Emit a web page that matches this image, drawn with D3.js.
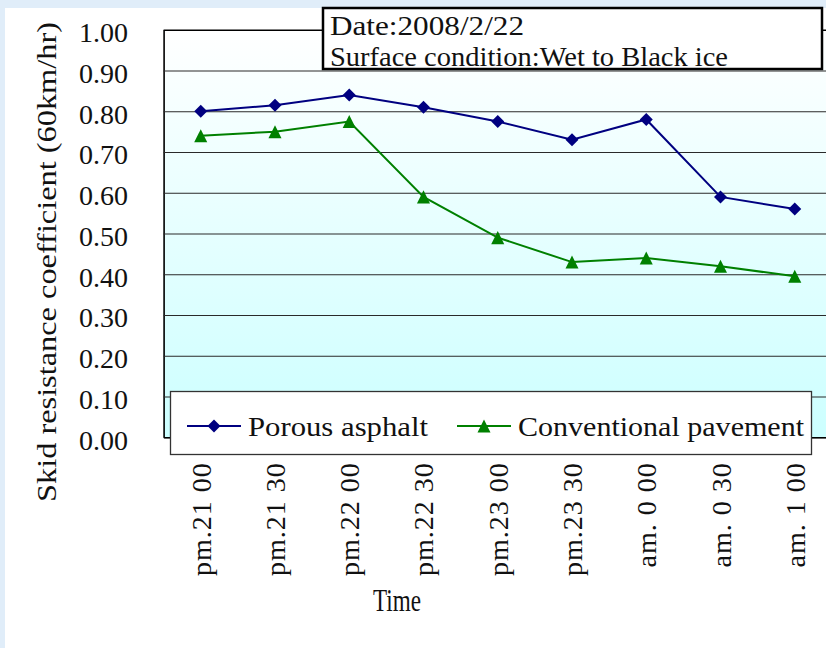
<!DOCTYPE html>
<html>
<head>
<meta charset="utf-8">
<script src="https://cdn.jsdelivr.net/npm/d3@7"></script>
<style>
  html, body { margin: 0; padding: 0; background: #e0edf9; }
  svg { display: block; }
  text { font-family: "Liberation Serif", "DejaVu Serif", serif; fill: #111; }
</style>
</head>
<body>
<svg id="chart" width="826" height="648"></svg>
<script>
// Time of measurement (night of 2008/2/22 into the next morning)
const categories = ["pm.21 00", "pm.21 30", "pm.22 00", "pm.22 30", "pm.23 00",
                    "pm.23 30", "am. 0 00", "am. 0 30", "am. 1 00"];
// Skid resistance coefficient at 60 km/hr
const porousAsphalt = [0.80, 0.815, 0.84, 0.81, 0.775, 0.73, 0.78, 0.59, 0.56];
const conventionalPavement = [0.74, 0.75, 0.775, 0.59, 0.49, 0.43, 0.44, 0.42, 0.395];
const yTicks = [0, 0.1, 0.2, 0.3, 0.4, 0.5, 0.6, 0.7, 0.8, 0.9, 1.0];
const seriesNames = ["Porous asphalt", "Conventional pavement"];
const infoLines = ["Date:2008/2/22", "Surface condition:Wet to Black ice"];

const svg = d3.select("#chart");
const W = 826, H = 648;

// page backdrop and white chart panel
svg.append("rect").attr("width", W).attr("height", H).attr("fill", "#e0edf9");
svg.append("rect").attr("x", 5).attr("y", 8).attr("width", W - 5).attr("height", H - 8).attr("fill", "#ffffff");

const plot = { left: 163.6, right: 831.9, top: 29.8, bottom: 437.3 };
const plotW = plot.right - plot.left;

const x = d3.scaleBand().domain(categories).range([plot.left, plot.right]).padding(0);
const y = d3.scaleLinear().domain([0, 1]).range([plot.bottom, plot.top]);
const cx = d => x(d) + x.bandwidth() / 2;

// plot area gradient: white at the top fading to pale cyan
const defs = svg.append("defs");
const grad = defs.append("linearGradient").attr("id", "plotBg")
  .attr("x1", 0).attr("y1", 0).attr("x2", 0).attr("y2", 1);
grad.append("stop").attr("offset", "0%").attr("stop-color", "#ffffff");
grad.append("stop").attr("offset", "100%").attr("stop-color", "#ccffff");

svg.append("rect")
  .attr("x", plot.left).attr("y", plot.top)
  .attr("width", plotW).attr("height", plot.bottom - plot.top)
  .attr("fill", "url(#plotBg)");

// horizontal gridlines + y tick labels
const yAxis = svg.append("g")
  .attr("transform", `translate(${plot.left},0)`)
  .call(d3.axisLeft(y).tickValues(yTicks).tickFormat(d3.format(".2f"))
    .tickSizeInner(-plotW).tickSizeOuter(0).tickPadding(35.5));
yAxis.select(".domain").attr("stroke", "#000").attr("stroke-width", 1.6);
yAxis.selectAll(".tick line").attr("stroke", d => d === 1 ? "#000" : "#2a2a2a").attr("stroke-width", d => d === 1 ? 1.6 : 1.1);
yAxis.selectAll(".tick text")
  .attr("font-size", 28).attr("dy", "0.42em")
  .style("font-family", "'Liberation Serif', serif").attr("fill", "#111");

// category axis with vertical labels
const xAxis = svg.append("g")
  .attr("transform", `translate(0,${plot.bottom})`)
  .call(d3.axisBottom(x).tickSize(0).tickPadding(0));
xAxis.select(".domain").attr("stroke", "#000").attr("stroke-width", 1.6);
xAxis.selectAll(".tick text")
  .attr("x", 0).attr("y", 0).attr("dy", 0)
  .attr("text-anchor", "end")
  .attr("transform", "translate(10,25) rotate(-90)")
  .attr("font-size", 28).attr("letter-spacing", 1)
  .style("font-family", "'Liberation Serif', serif").attr("fill", "#111");

// axis titles
svg.append("text")
  .attr("transform", `translate(56,${(22 + 502) / 2}) rotate(-90)`)
  .attr("text-anchor", "middle")
  .attr("font-size", 28)
  .attr("textLength", 480).attr("lengthAdjust", "spacingAndGlyphs")
  .text("Skid resistance coefficient (60km/hr)");

svg.append("text")
  .attr("x", 373).attr("y", 611)
  .attr("font-size", 32)
  .attr("textLength", 48).attr("lengthAdjust", "spacingAndGlyphs")
  .text("Time");

// marker shapes: rotated square and a box-centred triangle
const diamondType = {
  draw(ctx, size) {
    const r = Math.sqrt(size) / 2;
    ctx.moveTo(0, -r); ctx.lineTo(r, 0); ctx.lineTo(0, r); ctx.lineTo(-r, 0); ctx.closePath();
  }
};
const triangleType = {
  draw(ctx, size) {
    const r = Math.sqrt(size) / 2;
    ctx.moveTo(0, -r); ctx.lineTo(r, r); ctx.lineTo(-r, r); ctx.closePath();
  }
};

const series = [
  { name: seriesNames[0], values: porousAsphalt, color: "#000080", symbol: d3.symbol(diamondType, 169) },
  { name: seriesNames[1], values: conventionalPavement, color: "#008000", symbol: d3.symbol(triangleType, 170) }
];

const line = d3.line().x((d, i) => cx(categories[i])).y(d => y(d));

series.forEach(s => {
  svg.append("path").datum(s.values)
    .attr("d", line).attr("fill", "none")
    .attr("stroke", s.color).attr("stroke-width", 2);
  svg.append("g").selectAll("path").data(s.values).join("path")
    .attr("transform", (d, i) => `translate(${cx(categories[i])},${y(d)})`)
    .attr("d", s.symbol()).attr("fill", s.color);
});

// legend box overlapping the lower plot area
const legend = svg.append("g");
legend.append("rect")
  .attr("x", 170.5).attr("y", 391.5).attr("width", 641).attr("height", 63)
  .attr("fill", "#ffffff").attr("stroke", "#333").attr("stroke-width", 1.3);

const legendItems = [
  { x0: 187, x1: 241, textX: 248, textLen: 180 },
  { x0: 457, x1: 511, textX: 518, textLen: 286 }
];
series.forEach((s, i) => {
  const it = legendItems[i];
  const ly = 426;
  legend.append("line").attr("x1", it.x0).attr("x2", it.x1).attr("y1", ly).attr("y2", ly)
    .attr("stroke", s.color).attr("stroke-width", 2);
  legend.append("path").attr("transform", `translate(${(it.x0 + it.x1) / 2},${ly})`)
    .attr("d", s.symbol()).attr("fill", s.color);
  legend.append("text").attr("x", it.textX).attr("y", ly + 10)
    .attr("font-size", 28)
    .attr("textLength", it.textLen).attr("lengthAdjust", "spacingAndGlyphs")
    .text(s.name);
});

// information box at the top
const info = svg.append("g");
info.append("rect")
  .attr("x", 323).attr("y", 8).attr("width", 499).attr("height", 61)
  .attr("fill", "#ffffff").attr("stroke", "#000").attr("stroke-width", 2.5);
info.append("text").attr("x", 330).attr("y", 35).attr("font-size", 27)
  .attr("textLength", 194).attr("lengthAdjust", "spacingAndGlyphs").text(infoLines[0]);
info.append("text").attr("x", 330).attr("y", 66).attr("font-size", 27)
  .attr("textLength", 398).attr("lengthAdjust", "spacingAndGlyphs").text(infoLines[1]);
</script>
</body>
</html>
